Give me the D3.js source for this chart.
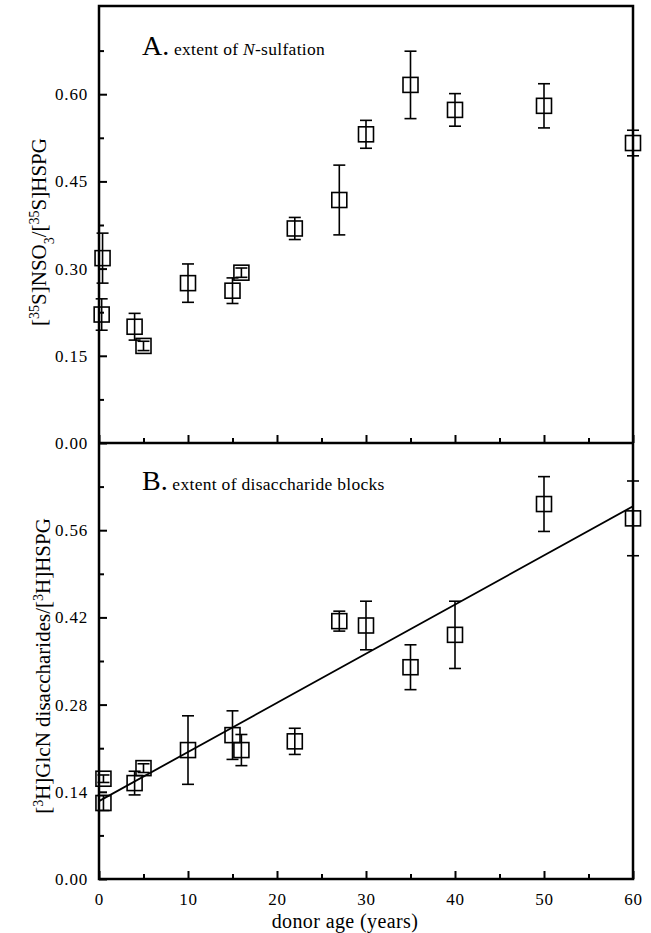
<!DOCTYPE html>
<html lang="en">
<head>
  <meta charset="UTF-8" />
  <title>HSPG sulfation vs donor age</title>
  <script src="https://d3js.org/d3.v7.min.js"></script>
  <style>
    html, body {
      margin: 0;
      padding: 0;
      background: #fff;
    }
    svg {
      display: block;
      font-family: "Liberation Serif", "Times New Roman", serif;
    }
  </style>
</head>
<body>
  <div id="chart"></div>

  <script>
    // Panel A: extent of N-sulfation
    const agesA   = [0.4, 0.3, 4, 5, 10, 15, 16, 22, 27, 30, 35, 40, 50, 60];
    const valuesA = [0.318, 0.221, 0.200, 0.167, 0.275, 0.262, 0.293, 0.369, 0.418, 0.531, 0.616, 0.573, 0.580, 0.516];
    const errorsA = [0.043, 0.027, 0.023, 0.008, 0.033, 0.022, 0.008, 0.019, 0.060, 0.024, 0.058, 0.028, 0.038, 0.022];

    // Panel B: extent of disaccharide blocks
    const agesB   = [0.5, 0.5, 4, 5, 10, 15, 16, 22, 27, 30, 35, 40, 50, 60];
    const valuesB = [0.161, 0.122, 0.154, 0.178, 0.207, 0.231, 0.207, 0.221, 0.414, 0.407, 0.340, 0.392, 0.602, 0.579];
    const errorsB = [0.006, 0.012, 0.019, 0.007, 0.055, 0.039, 0.025, 0.021, 0.016, 0.039, 0.036, 0.054, 0.044, 0.060];

    // regression line in panel B
    const fitB = { intercept: 0.125, slope: 0.00789 };

    // tick labels
    const ticksX = [0, 10, 20, 30, 40, 50, 60];
    const ticksA = [0.00, 0.15, 0.30, 0.45, 0.60];
    const ticksB = [0.00, 0.14, 0.28, 0.42, 0.56];

    const width = 651, height = 933;

    const svg = d3.select("#chart")
      .append("svg")
      .attr("width", width)
      .attr("height", height);

    const x = d3.scaleLinear().domain([0, 60]).range([99, 633]);
    const yA = d3.scaleLinear().domain([0, 0.75]).range([443, 7]);
    const yB = d3.scaleLinear().domain([0, 0.70]).range([879, 443]);

    // minor ticks halfway between the labelled ones
    const minorX = d3.range(5, 60, 10);
    const minorA = d3.range(0.075, 0.75, 0.15);
    const minorB = d3.range(0.07, 0.70, 0.14);

    function drawPanel(y, ticks, minor, showXLabels) {
      const g = svg.append("g");

      // left axis, ticks pointing inward
      const left = g.append("g")
        .attr("transform", `translate(${x(0)},0)`)
        .call(d3.axisLeft(y).tickValues(ticks).tickSize(-8).tickPadding(11)
          .tickFormat(d3.format(".2f")));
      left.append("g")
        .call(d3.axisLeft(y).tickValues(minor).tickSize(-5).tickFormat(""));

      // bottom axis
      const bottom = g.append("g")
        .attr("transform", `translate(0,${y(0)})`)
        .call(d3.axisBottom(x).tickValues(ticksX).tickSize(-8).tickPadding(14)
          .tickFormat(showXLabels ? d3.format("d") : ""));
      bottom.append("g")
        .call(d3.axisBottom(x).tickValues(minorX).tickSize(-5).tickFormat(""));

      g.selectAll(".domain").remove();
      g.selectAll(".tick line").attr("stroke", "#000").attr("stroke-width", 2);
      g.selectAll(".tick text")
        .attr("fill", "#000")
        .style("font-family", "'Liberation Serif', 'Times New Roman', serif")
        .style("font-size", "17px")
        .style("letter-spacing", "0.8px");
      return g;
    }

    function drawPoints(g, y, ages, values, errors) {
      const pts = ages.map((a, i) => ({ age: a, v: values[i], e: errors[i] }));
      const cap = 6, half = 7.5;

      const bars = g.append("g")
        .attr("stroke", "#000")
        .attr("stroke-width", 1.6)
        .selectAll("g")
        .data(pts)
        .enter()
        .append("g");

      bars.append("line")
        .attr("x1", d => x(d.age)).attr("x2", d => x(d.age))
        .attr("y1", d => y(d.v - d.e)).attr("y2", d => y(d.v + d.e));
      bars.append("line")
        .attr("x1", d => x(d.age) - cap).attr("x2", d => x(d.age) + cap)
        .attr("y1", d => y(d.v + d.e)).attr("y2", d => y(d.v + d.e));
      bars.append("line")
        .attr("x1", d => x(d.age) - cap).attr("x2", d => x(d.age) + cap)
        .attr("y1", d => y(d.v - d.e)).attr("y2", d => y(d.v - d.e));

      g.append("g")
        .selectAll("rect")
        .data(pts)
        .enter()
        .append("rect")
        .attr("x", d => x(d.age) - half)
        .attr("y", d => y(d.v) - half)
        .attr("width", half * 2)
        .attr("height", half * 2)
        .attr("fill", "none")
        .attr("stroke", "#000")
        .attr("stroke-width", 1.6);
    }

    const panelA = drawPanel(yA, ticksA, minorA, false);
    const panelB = drawPanel(yB, ticksB, minorB, true);

    // regression line
    panelB.append("line")
      .attr("x1", x(0)).attr("y1", yB(fitB.intercept))
      .attr("x2", x(60)).attr("y2", yB(fitB.intercept + fitB.slope * 60))
      .attr("stroke", "#000")
      .attr("stroke-width", 1.8);

    drawPoints(panelA, yA, agesA, valuesA, errorsA);
    drawPoints(panelB, yB, agesB, valuesB, errorsB);

    // frame: outer box plus shared middle line
    svg.append("rect")
      .attr("x", x(0)).attr("y", yA.range()[1] - 1)
      .attr("width", x(60) - x(0))
      .attr("height", yB(0) - yA.range()[1] + 1)
      .attr("fill", "none")
      .attr("stroke", "#000")
      .attr("stroke-width", 2.5);
    svg.append("line")
      .attr("x1", x(0)).attr("x2", x(60))
      .attr("y1", yA(0)).attr("y2", yA(0))
      .attr("stroke", "#000")
      .attr("stroke-width", 2.5);

    // panel titles
    function panelTitle(yPos, letter, pieces) {
      const t = svg.append("text")
        .attr("x", 142)
        .attr("y", yPos)
        .attr("fill", "#000");
      t.append("tspan").style("font-size", "28px").text(letter + ".");
      pieces.forEach(p => {
        t.append("tspan")
          .style("font-size", "17.5px")
          .style("letter-spacing", "0.3px")
          .style("font-style", p.italic ? "italic" : "normal")
          .text(p.text);
      });
    }
    panelTitle(55, "A", [
      { text: " extent of " },
      { text: "N", italic: true },
      { text: "-sulfation" }
    ]);
    panelTitle(490, "B", [{ text: " extent of disaccharide blocks" }]);

    // y axis titles with superscripts and subscripts
    function yTitle(cx, cy, pieces) {
      const t = svg.append("text")
        .attr("transform", `translate(${cx},${cy}) rotate(-90)`)
        .attr("text-anchor", "middle")
        .attr("fill", "#000")
        .style("font-size", "21px");
      pieces.forEach(p => {
        const s = t.append("tspan").text(p.text);
        if (p.sup) s.attr("baseline-shift", "super").style("font-size", "14px");
        if (p.sub) s.attr("baseline-shift", "sub").style("font-size", "14px");
      });
    }
    yTitle(46, 232, [
      { text: "[" }, { text: "35", sup: true }, { text: "S]NSO" },
      { text: "3", sub: true }, { text: "/[" }, { text: "35", sup: true },
      { text: "S]HSPG" }
    ]);
    yTitle(50, 666, [
      { text: "[" }, { text: "3", sup: true }, { text: "H]GlcN disaccharides/[" },
      { text: "3", sup: true }, { text: "H]HSPG" }
    ]);

    // x axis title
    svg.append("text")
      .attr("x", 345)
      .attr("y", 928)
      .attr("text-anchor", "middle")
      .attr("fill", "#000")
      .style("font-size", "20px")
      .style("letter-spacing", "0.4px")
      .text("donor age (years)");
  </script>
</body>
</html>
